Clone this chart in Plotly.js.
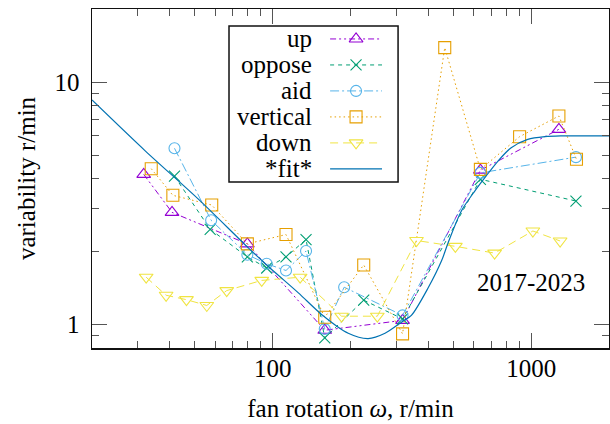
<!DOCTYPE html>
<html>
<head>
<meta charset="utf-8">
<script src="https://cdn.plot.ly/plotly-3.0.1.min.js"></script>
<style>
  html, body { margin: 0; padding: 0; background: #fff; }
  #chart { width: 610px; height: 424px; }
</style>
</head>
<body>
<div id="chart"></div>
<script>
// Measured variability against fan rotation speed (log-log)
const upX = [31.7, 40.8, 79.8, 159, 318, 636, 1280];
const upY = [4.16, 2.90, 2.15, 0.947, 1.04, 4.33, 6.38];

const opposeX = [41.7, 57.3, 79.8, 94.8, 112.6, 134.6, 159, 225, 318, 636, 1490];
const opposeY = [4.09, 2.47, 1.90, 1.71, 1.90, 2.24, 0.88, 1.26, 1.055, 3.97, 3.23];

const aidX = [41.7, 57.8, 79.8, 94.8, 112.6, 134.6, 159, 189, 318, 636, 1490];
const aidY = [5.33, 2.69, 1.94, 1.78, 1.67, 2.01, 0.959, 1.425, 1.09, 4.22, 4.90];

const verticalX = [33.9, 41.1, 58.1, 79.8, 112.6, 159, 225, 318, 463, 636, 902, 1280, 1497];
const verticalY = [4.39, 3.41, 3.11, 2.15, 2.35, 1.072, 1.76, 0.915, 13.86, 4.36, 5.95, 7.24, 4.80];

const downX = [32.4, 38.7, 46.4, 55.6, 66.4, 90.7, 127.7, 184.7, 254, 360, 509, 722, 1015, 1294];
const downY = [1.567, 1.32, 1.266, 1.198, 1.38, 1.52, 1.567, 1.082, 1.082, 2.22, 2.10, 1.97, 2.43, 2.21];

const fitX = [20, 32.2, 51.7, 80.5, 97.7, 125.7, 154.6, 196, 234, 272, 318, 344, 400, 450, 480, 537, 605, 670, 744, 837, 970, 1130, 1300, 2000];
const fitY = [8.43, 5.19, 3.28, 2.07, 1.71, 1.35, 1.10, 0.92, 0.875, 0.92, 1.03, 1.09, 1.42, 1.83, 2.21, 2.94, 3.55, 4.10, 4.72, 5.36, 5.80, 5.95, 5.99, 6.0];

const seriesNames = ['up', 'oppose', 'aid', 'vertical', 'down', '*fit*'];

const xMajor = [100, 1000];
const xMajorText = ['100', '1000'];
const xMinor = [30, 40, 50, 60, 70, 80, 90, 200, 300, 400, 500, 600, 700, 800, 900, 2000];
const yMajor = [1, 10];
const yMajorText = ['1', '10'];
const yMinor = [0.9, 2, 3, 4, 5, 6, 7, 8, 9, 20];

const FONT = 'Liberation Serif, Times New Roman, serif';

const styles = [
  { color: '#9400d3', dash: '6px,3px,2px,3px,2px,3px', symbol: 'triangle-up-open', size: 12 },
  { color: '#009e73', dash: '4px,4px', symbol: 'x-thin-open', size: 11 },
  { color: '#56b4e9', dash: '9px,3px,2px,3px', symbol: 'circle-open', size: 11 },
  { color: '#e69f00', dash: '1.5px,3px', symbol: 'square-open', size: 12 },
  { color: '#f0e442', dash: '8px,5px', symbol: 'triangle-down-open', size: 12 },
  { color: '#0072b2', dash: 'solid', symbol: null, size: 0 }
];

const seriesData = [
  [upX, upY], [opposeX, opposeY], [aidX, aidY],
  [verticalX, verticalY], [downX, downY]
];

const traces = [];

seriesData.forEach(([xs, ys], i) => {
  const s = styles[i];
  traces.push({
    x: xs, y: ys, type: 'scatter', mode: 'lines+markers',
    line: { color: s.color, width: 1, dash: s.dash },
    marker: { symbol: s.symbol, size: s.size, color: s.color, line: { color: s.color, width: 1.1 } },
    showlegend: false, hoverinfo: 'skip'
  });
});

traces.push({
  x: fitX, y: fitY, type: 'scatter', mode: 'lines',
  line: { color: styles[5].color, width: 1.2, shape: 'spline', smoothing: 0.8 },
  showlegend: false, hoverinfo: 'skip'
});

// Key: sample lines and markers drawn on a small overlay axis pair
const keyAnnotations = [];
seriesNames.forEach((name, i) => {
  const s = styles[i];
  const yk = i + 0.5;
  traces.push({
    x: [0.598, 0.905], y: [yk, yk], xaxis: 'x2', yaxis: 'y2',
    type: 'scatter', mode: 'lines',
    line: { color: s.color, width: i === 5 ? 1.2 : 1, dash: s.dash },
    showlegend: false, hoverinfo: 'skip'
  });
  if (s.symbol) {
    traces.push({
      x: [0.7515], y: [yk], xaxis: 'x2', yaxis: 'y2',
      type: 'scatter', mode: 'markers',
      marker: { symbol: s.symbol, size: s.size, color: s.color, line: { color: s.color, width: 1.1 } },
      showlegend: false, hoverinfo: 'skip'
    });
  }
  keyAnnotations.push({
    xref: 'x2', yref: 'y2', x: 0.50, y: yk,
    xanchor: 'right', yanchor: 'middle', showarrow: false,
    text: name, font: { family: FONT, size: 25, color: '#000' }
  });
});

const axisCommon = {
  type: 'log', ticks: 'inside', ticklen: 15, tickwidth: 1, tickcolor: '#555',
  showline: true, linecolor: '#111', linewidth: 1.5, mirror: 'ticks',
  showgrid: false, zeroline: false,
  tickfont: { family: FONT, size: 25, color: '#000' },
  tickmode: 'array'
};

const layout = {
  width: 610, height: 424,
  margin: { l: 92, r: 1, t: 9, b: 76 },
  paper_bgcolor: '#fff', plot_bgcolor: '#fff',
  showlegend: false,
  xaxis: Object.assign({}, axisCommon, {
    range: [Math.log10(20), Math.log10(2000)],
    tickvals: xMajor, ticktext: xMajorText,
    minor: { tickmode: 'array', tickvals: xMinor, ticks: 'inside', ticklen: 7, tickwidth: 1, tickcolor: '#555', showgrid: false },
    ticklabelstandoff: -3,
    title: { text: 'fan rotation <i>ω</i>, r/min', font: { family: FONT, size: 25, color: '#000' }, standoff: 19 }
  }),
  yaxis: Object.assign({}, axisCommon, {
    range: [Math.log10(0.8), Math.log10(20)],
    tickvals: yMajor, ticktext: yMajorText,
    minor: { tickmode: 'array', tickvals: yMinor, ticks: 'inside', ticklen: 7, tickwidth: 1, tickcolor: '#555', showgrid: false },
    ticklabelstandoff: 6,
    title: { text: 'variability r/min', font: { family: FONT, size: 25, color: '#000' }, standoff: 12 }
  }),
  xaxis2: { domain: [0.265, 0.592], range: [0, 1], anchor: 'y2', visible: false, fixedrange: true },
  yaxis2: { domain: [0.49, 0.95], range: [6, 0], anchor: 'x2', visible: false, fixedrange: true },
  shapes: [{
    type: 'rect', xref: 'paper', yref: 'paper',
    x0: 0.265, x1: 0.592, y0: 0.49, y1: 0.95,
    line: { color: '#111', width: 1.5 }, fillcolor: 'rgba(0,0,0,0)', layer: 'above'
  }],
  annotations: keyAnnotations.concat([{
    xref: 'paper', yref: 'paper', x: 0.849, y: 0.192,
    xanchor: 'center', yanchor: 'middle', showarrow: false,
    text: '2017-2023', font: { family: FONT, size: 25, color: '#000' }
  }])
};

Plotly.newPlot('chart', traces, layout, { staticPlot: true, displayModeBar: false });
</script>
</body>
</html>
